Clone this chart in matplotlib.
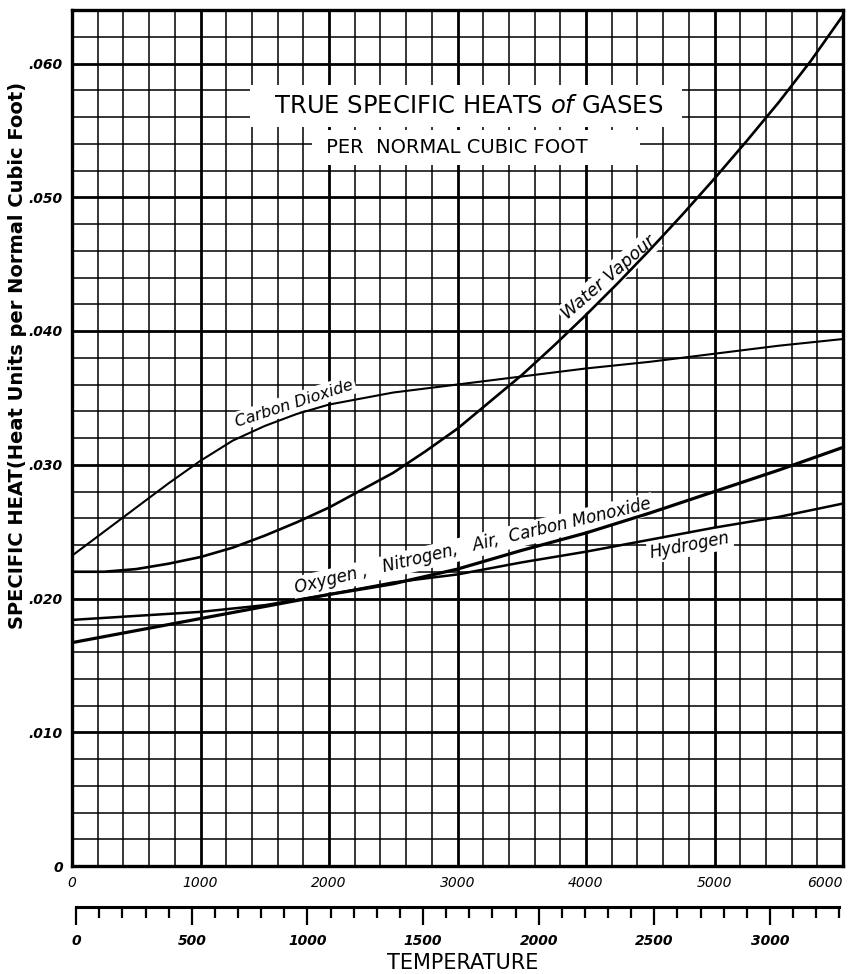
import matplotlib.pyplot as plt
from matplotlib.ticker import MultipleLocator

# temperature readings (deg F)
temp_f = [0, 500, 1000, 1500, 2000, 2500, 3000, 3500, 4000, 4500, 5000, 5500, 6000]
temp_f_fine = [0, 250, 500, 750, 1000, 1250, 1500, 1750, 2000, 2250, 2500, 2750, 3000,
               3250, 3500, 3750, 4000, 4250, 4500, 4750, 5000, 5250, 5500, 5750, 6000]
temp_f_co2 = [0, 250, 500, 750, 1000, 1250, 1500, 1750, 2000, 2500, 3000, 3500,
              4000, 4500, 5000, 5500, 6000]

# specific heats, heat units per normal cubic foot
water_vapour = [0.0220, 0.0220, 0.0222, 0.0226, 0.0231, 0.0238, 0.0247, 0.0257, 0.0268,
                0.0281, 0.0294, 0.0310, 0.0327, 0.0347, 0.0367, 0.0389, 0.0412, 0.0436,
                0.0461, 0.0487, 0.0514, 0.0542, 0.0571, 0.0602, 0.0636]
carbon_dioxide = [0.0232, 0.0250, 0.0268, 0.0286, 0.0303, 0.0318, 0.0329, 0.0338,
                  0.0345, 0.0354, 0.0360, 0.0366, 0.0372, 0.0377, 0.0383, 0.0389, 0.0394]
oxygen_air = [0.0167, 0.0176, 0.0185, 0.0194, 0.0203, 0.0211, 0.0222, 0.0236,
              0.0249, 0.0264, 0.0280, 0.0296, 0.0313]
hydrogen = [0.0184, 0.0187, 0.0190, 0.0195, 0.0203, 0.0212, 0.0218, 0.0227,
            0.0235, 0.0244, 0.0253, 0.0261, 0.0271]

# axis ticks
x_ticks = [0, 1000, 2000, 3000, 4000, 5000, 6000]
x_labels = ['0', '1000', '2000', '3000', '4000', '5000', '6000']
y_ticks = [0, 0.010, 0.020, 0.030, 0.040, 0.050, 0.060]
y_labels = ['0', '.010', '.020', '.030', '.040', '.050', '.060']
c_ticks = [0, 500, 1000, 1500, 2000, 2500, 3000]
c_labels = ['0', '500', '1000', '1500', '2000', '2500', '3000']
c_minor = list(range(0, 3301, 100))

W, H = 852, 974
fig = plt.figure(figsize=(W / 100, H / 100), dpi=100)
ax = fig.add_axes([72 / W, 108 / H, 771 / W, 856 / H])
ax.set_xlim(0, 6000)
ax.set_ylim(0, 0.064)

# squared paper
ax.xaxis.set_minor_locator(MultipleLocator(200))
ax.yaxis.set_minor_locator(MultipleLocator(0.002))
ax.set_axisbelow(True)
ax.grid(which='minor', color='black', lw=1.1)
ax.grid(which='major', color='black', lw=2.0)
for s in ax.spines.values():
    s.set_linewidth(2.4)

ax.set_xticks(x_ticks, x_labels, fontsize=10, fontstyle='italic')
ax.set_yticks(y_ticks, y_labels, fontsize=10, fontstyle='italic', fontweight='bold')
ax.tick_params(which='both', length=0)
ax.tick_params(axis='x', pad=7)
ax.tick_params(axis='y', pad=6.5)
ax.get_xticklabels()[-1].set_ha('right')

# curves
ax.plot(temp_f_fine, water_vapour, color='black', lw=1.9, zorder=4)
ax.plot(temp_f_co2, carbon_dioxide, color='black', lw=1.5, zorder=4)
ax.plot(temp_f, oxygen_air, color='black', lw=2.3, zorder=4)
ax.plot(temp_f, hydrogen, color='black', lw=1.8, zorder=4)

blank = dict(boxstyle='square,pad=0.15', fc='white', ec='none')
ax.text(1728, 0.0346, 'Carbon Dioxide', fontsize=11.5, fontstyle='italic',
        rotation=18, rotation_mode='anchor', ha='center', va='center', bbox=blank, zorder=3)
ax.text(4180, 0.0440, 'Water Vapour', fontsize=12.5, fontstyle='italic',
        rotation=41, rotation_mode='anchor', ha='center', va='center', bbox=blank, zorder=3)
ax.text(3121, 0.0239, 'Oxygen ,   Nitrogen,   Air,  Carbon Monoxide', fontsize=12,
        fontstyle='italic', rotation=13.4, rotation_mode='anchor', ha='center',
        va='center', bbox=blank, zorder=3)
ax.text(4810, 0.0240, 'Hydrogen', fontsize=12, fontstyle='italic',
        rotation=11, rotation_mode='anchor', ha='center', va='center', bbox=blank, zorder=3)

# title blocks, lettered over the squared paper
ax.text(3066, 0.0568, r'  TRUE SPECIFIC HEATS $\it{of}$ GASES  ', fontsize=17.5,
        ha='center', va='center', zorder=3,
        bbox=dict(boxstyle='square,pad=0.37', fc='white', ec='none'))
ax.text(1930, 0.0537, ' PER  NORMAL CUBIC FOOT       ', fontsize=14,
        ha='left', va='center', zorder=3,
        bbox=dict(boxstyle='square,pad=0.42', fc='white', ec='none'))

# centigrade scale below
ax2 = fig.add_axes([72 / W, 1 - 930 / H, 771 / W, 23 / H])
ax2.set_xlim((0 - 32) / 1.8, (6000 - 32) / 1.8)
ax2.set_ylim(0, 1)
ax2.patch.set_visible(False)
for side in ['left', 'right', 'bottom']:
    ax2.spines[side].set_visible(False)
ax2.spines['top'].set_linewidth(2.2)
ax2.spines['top'].set_bounds(0, 3300)
ax2.set_yticks([])
ax2.set_xticks(c_ticks, c_labels, fontsize=10, fontstyle='italic', fontweight='bold')
ax2.set_xticks(c_minor, minor=True)
ax2.tick_params(which='both', top=True, bottom=False, labeltop=False,
                labelbottom=True, direction='in', width=1.6)
ax2.tick_params(which='major', length=13, pad=3)
ax2.tick_params(which='minor', length=8)

fig.text(463 / W, 1 - 963 / H, 'TEMPERATURE', fontsize=15, ha='center', va='center')
fig.text(18 / W, 1 - 355 / H, 'SPECIFIC HEAT(Heat Units per Normal Cubic Foot)',
         rotation=90, fontsize=14, fontweight='bold', ha='center', va='center')

fig.savefig('out.png', dpi=100)
